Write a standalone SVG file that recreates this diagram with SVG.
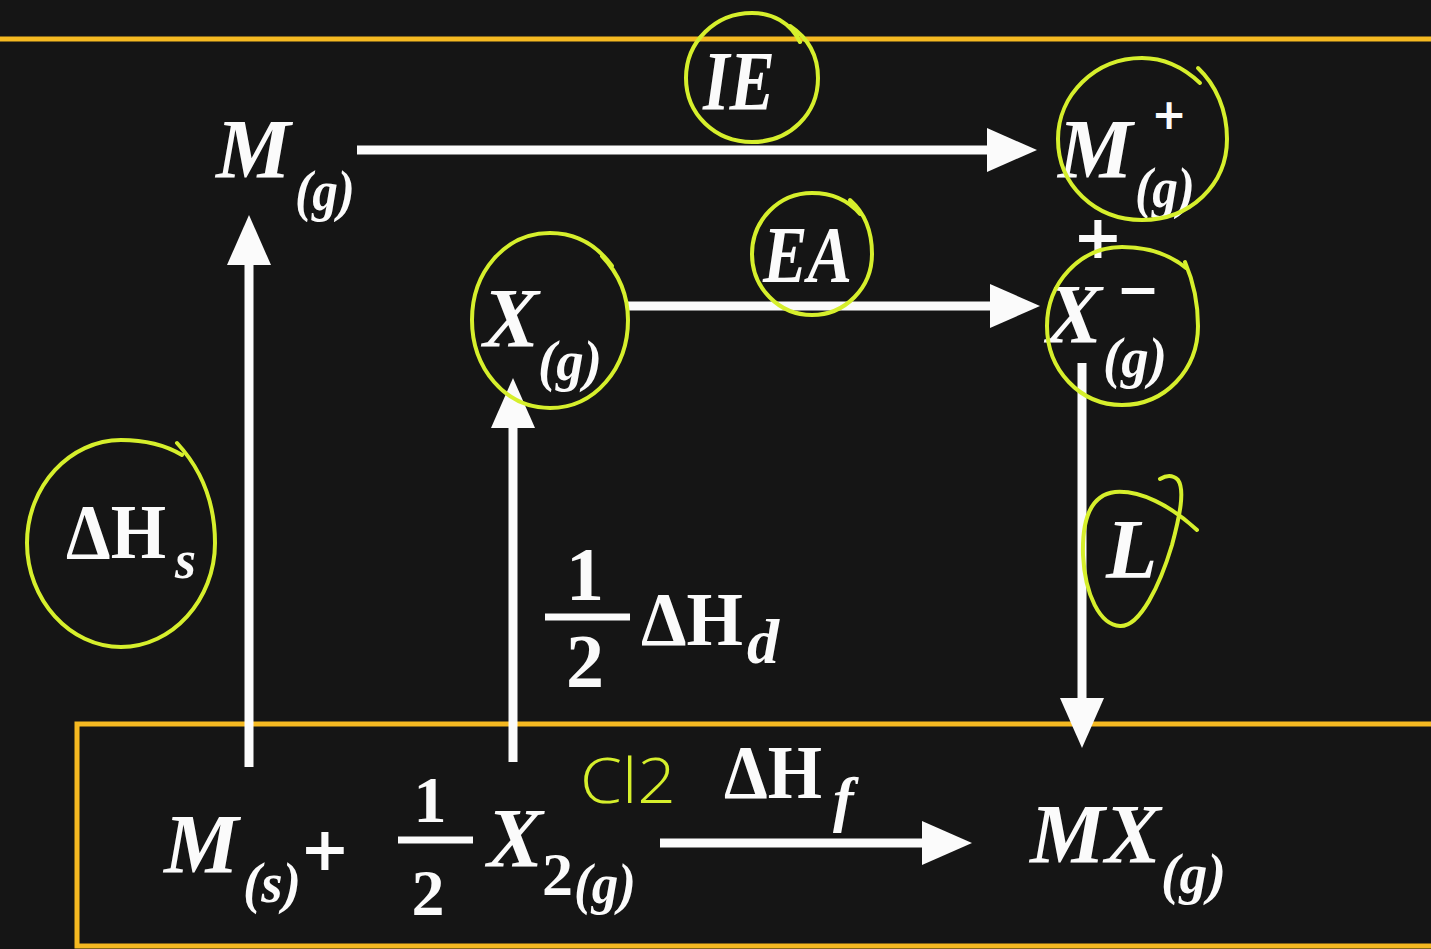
<svg xmlns="http://www.w3.org/2000/svg" width="1431" height="949" viewBox="0 0 1431 949">
<defs>
<style>
.bi{font-family:"Liberation Serif","Times New Roman",serif;font-weight:bold;font-style:italic;fill:#fbfbfb}
.b{font-family:"Liberation Serif","Times New Roman",serif;font-weight:bold;fill:#fbfbfb}
.op{font-family:"DejaVu Sans",sans-serif;font-weight:bold;fill:#fbfbfb}
.conn{stroke:#fbfbfb;stroke-width:9;fill:none}
.ring{stroke:#d6ef2c;stroke-width:4;fill:none;stroke-linecap:round;stroke-linejoin:round}
.frame{stroke:#f5b921;stroke-width:5;fill:none}
.hand{font-family:"Open Sans","Noto Sans",sans-serif;font-weight:300;fill:#d6ef2c}
</style>
<marker id="ah" viewBox="0 0 50 44" refX="0" refY="22" markerWidth="50" markerHeight="44" markerUnits="userSpaceOnUse" orient="auto">
<path d="M0 0 L50 22 L0 44 Z" fill="#fbfbfb"/>
</marker>
</defs>
<rect x="0" y="0" width="1431" height="949" fill="#151515"/>
<g id="frames">
<line class="frame" x1="0" y1="39" x2="1431" y2="39"/>
<rect class="frame" x="77" y="724" width="1400" height="222"/>
</g>
<g id="connectors">
<line class="conn" x1="357" y1="150" x2="987" y2="150" marker-end="url(#ah)"/>
<line class="conn" x1="628" y1="306" x2="990" y2="306" marker-end="url(#ah)"/>
<line class="conn" x1="249" y1="767" x2="249" y2="265" marker-end="url(#ah)"/>
<line class="conn" x1="513" y1="762" x2="513" y2="428" marker-end="url(#ah)"/>
<line class="conn" x1="1082" y1="363" x2="1082" y2="698" marker-end="url(#ah)"/>
<line class="conn" x1="660" y1="843" x2="922" y2="843" marker-end="url(#ah)"/>
</g>
<g id="node-Mg">
<text class="bi" x="216" y="178" font-size="84">M</text>
<text class="bi" x="295" y="210" font-size="56" textLength="60" lengthAdjust="spacingAndGlyphs">(g)</text>
</g>
<g id="node-Mplus">
<text class="bi" x="1058" y="178" font-size="84">M</text>
<text class="op" x="1169" y="129" font-size="42" text-anchor="middle">+</text>
<text class="bi" x="1135" y="207" font-size="56" textLength="60" lengthAdjust="spacingAndGlyphs">(g)</text>
</g>
<g id="plus-sign">
<text class="op" x="1098" y="258" font-size="60" text-anchor="middle">+</text>
</g>
<g id="node-Xminus">
<text class="bi" x="1046" y="343" font-size="84">X</text>
<text class="op" x="1138" y="307" font-size="52" text-anchor="middle">−</text>
<text class="bi" x="1103" y="377" font-size="56" textLength="64" lengthAdjust="spacingAndGlyphs">(g)</text>
</g>
<g id="node-Xg">
<text class="bi" x="483" y="347" font-size="84">X</text>
<text class="bi" x="538" y="380" font-size="56" textLength="64" lengthAdjust="spacingAndGlyphs">(g)</text>
</g>
<g id="label-IE">
<text class="bi" x="703" y="110" font-size="84" textLength="72" lengthAdjust="spacingAndGlyphs">IE</text>
</g>
<g id="label-EA">
<text class="bi" x="763" y="282" font-size="80" textLength="89" lengthAdjust="spacingAndGlyphs">EA</text>
</g>
<g id="label-dHs">
<text class="b" x="66" y="558" font-size="78" textLength="100" lengthAdjust="spacingAndGlyphs">ΔH</text>
<text class="bi" x="175" y="578" font-size="54">s</text>
</g>
<g id="label-dHd">
<text class="b" x="585" y="600" font-size="76" text-anchor="middle">1</text>
<line x1="545" y1="617" x2="630" y2="617" stroke="#fbfbfb" stroke-width="7"/>
<text class="b" x="585" y="687" font-size="76" text-anchor="middle">2</text>
<text class="b" x="641" y="645" font-size="76" textLength="102" lengthAdjust="spacingAndGlyphs">ΔH</text>
<text class="bi" x="747" y="663" font-size="64">d</text>
</g>
<g id="label-L">
<text class="bi" x="1106" y="578" font-size="84">L</text>
</g>
<g id="node-reactants">
<text class="bi" x="164" y="873" font-size="84">M</text>
<text class="bi" x="243" y="902" font-size="56" textLength="58" lengthAdjust="spacingAndGlyphs">(s)</text>
<text class="op" x="325" y="870" font-size="60" text-anchor="middle">+</text>
<text class="b" x="430" y="822" font-size="66" text-anchor="middle">1</text>
<line x1="398" y1="840" x2="473" y2="840" stroke="#fbfbfb" stroke-width="7"/>
<text class="b" x="428" y="915" font-size="66" text-anchor="middle">2</text>
<text class="bi" x="487" y="867" font-size="84">X</text>
<text class="b" x="542" y="895" font-size="62">2</text>
<text class="bi" x="574" y="903" font-size="56" textLength="62" lengthAdjust="spacingAndGlyphs">(g)</text>
</g>
<g id="label-dHf">
<text class="b" x="724" y="798" font-size="76" textLength="98" lengthAdjust="spacingAndGlyphs">ΔH</text>
<text class="bi" x="833" y="820" font-size="62">f</text>
</g>
<g id="node-MX">
<text class="bi" x="1030" y="863" font-size="84" textLength="131" lengthAdjust="spacingAndGlyphs">MX</text>
<text class="bi" x="1161" y="893" font-size="56" textLength="65" lengthAdjust="spacingAndGlyphs">(g)</text>
</g>
<g id="annotations">
<path class="ring" d="M800 42 C790 22 772 13 752 13 C715 13 686 42 686 78 C686 114 715 142 752 142 C790 142 818 114 818 78 C818 55 808 38 790 26"/>
<path class="ring" d="M1200 83 C1182 66 1162 58 1142 58 C1095 58 1058 95 1058 139 C1058 185 1095 220 1142 220 C1190 220 1227 185 1227 139 C1227 110 1216 85 1198 68"/>
<path class="ring" d="M1186 268 C1168 253 1146 247 1122 247 C1080 247 1047 283 1047 326 C1047 370 1080 405 1122 405 C1165 405 1198 370 1198 326 C1198 303 1194 283 1185 262"/>
<path class="ring" d="M612 266 C596 244 575 233 550 233 C505 233 472 272 472 320 C472 368 505 408 550 408 C595 408 628 368 628 320 C628 296 620 275 602 256"/>
<path class="ring" d="M860 214 C848 200 832 193 812 193 C779 193 752 220 752 254 C752 288 779 315 812 315 C845 315 872 288 872 254 C872 232 866 214 850 200"/>
<path class="ring" d="M182 455 C162 443 142 440 121 440 C70 440 27 486 27 543 C27 600 70 647 121 647 C172 647 215 600 215 543 C215 505 202 470 177 443"/>
<path class="ring" d="M1197 530 C1170 505 1140 490 1115 492 C1090 495 1082 520 1083 555 C1085 595 1100 625 1120 626 C1140 627 1160 585 1172 545 C1180 515 1185 490 1178 480 C1172 474 1165 476 1160 479"/>
<text class="hand" x="580" y="803" font-size="62" textLength="96" lengthAdjust="spacingAndGlyphs">Cl2</text>
</g>
</svg>
